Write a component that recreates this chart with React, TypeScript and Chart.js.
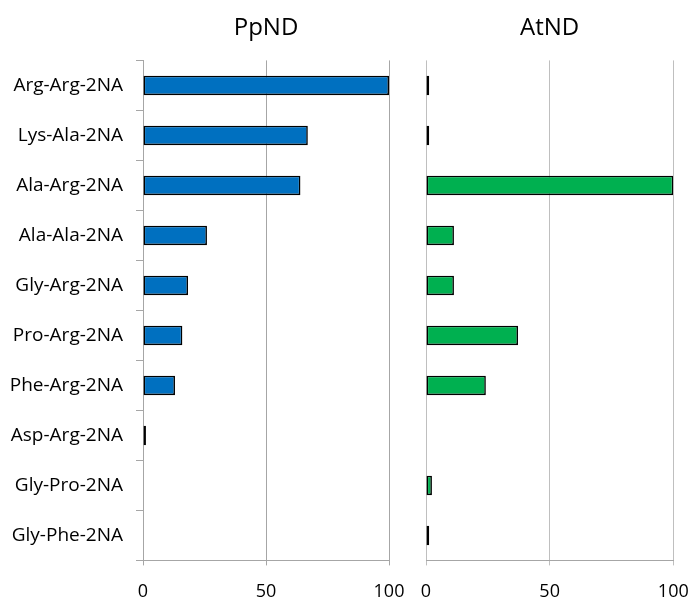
import React, { useEffect, useRef } from "react";
import { Chart, registerables } from "chart.js";

Chart.register(...registerables);

const categories = [
  "Arg-Arg-2NA",
  "Lys-Ala-2NA",
  "Ala-Arg-2NA",
  "Ala-Ala-2NA",
  "Gly-Arg-2NA",
  "Pro-Arg-2NA",
  "Phe-Arg-2NA",
  "Asp-Arg-2NA",
  "Gly-Pro-2NA",
  "Gly-Phe-2NA",
];
const ppndValues = [100, 67, 64, 26, 18.3, 16, 13, 1.2, 0, 0];
const atndValues = [1.3, 1.3, 100, 11.3, 11.3, 37.2, 24.2, 0, 2.4, 1.3];
const xTicks = [0, 50, 100];
const panelTitles = ["PpND", "AtND"];

const FONT = "'Open Sans', sans-serif";
const CANVAS_H = 619;

type PanelProps = {
  title: string;
  values: number[];
  color: string;
  showCategories: boolean;
  left: number;
  width: number;
  padLeft: number;
  padRight: number;
  gridColor: string;
};

function Panel(p: PanelProps) {
  const ref = useRef<HTMLCanvasElement | null>(null);
  useEffect(() => {
    if (!ref.current) return;
    const chart = new Chart(ref.current, {
      type: "bar",
      data: {
        labels: categories,
        datasets: [
          {
            data: p.values,
            backgroundColor: p.color,
            borderColor: "#000000",
            borderWidth: 1.6,
            borderSkipped: false,
            barPercentage: 0.39,
            categoryPercentage: 1,
          },
        ],
      },
      options: {
        indexAxis: "y",
        animation: false,
        responsive: false,
        maintainAspectRatio: false,
        events: [],
        layout: { padding: { left: p.padLeft, right: p.padRight, top: 0, bottom: 0 } },
        plugins: {
          legend: { display: false },
          tooltip: { enabled: false },
          title: {
            display: true,
            text: p.title,
            fullSize: false,
            color: "#000000",
            font: { family: FONT, size: 24, weight: "normal" },
            padding: { top: 13.6, bottom: 18 },
          },
        },
        scales: {
          x: {
            min: 0,
            max: 100,
            afterBuildTicks: (scale: any) => {
              scale.ticks = xTicks.map((v) => ({ value: v }));
            },
            afterFit: (scale: any) => {
              scale.paddingLeft = 0;
              scale.paddingRight = 0;
            },
            grid: {
              color: p.gridColor,
              drawTicks: true,
              tickLength: 5,
              lineWidth: 1,
            },
            border: { display: true, color: "#a6a6a6", width: 1 },
            ticks: {
              color: "#000000",
              padding: 16,
              maxRotation: 0,
              font: { family: FONT, size: 18 },
            },
          },
          y: {
            display: p.showCategories,
            afterFit: (scale: any) => {
              if (p.showCategories) scale.width = 143;
            },
            grid: {
              offset: true,
              drawOnChartArea: false,
              drawTicks: true,
              tickLength: 7,
              color: "#a6a6a6",
            },
            border: { display: true, color: "#a6a6a6", width: 1 },
            ticks: {
              color: "#000000",
              padding: 13,
              autoSkip: false,
              font: { family: FONT, size: 19 },
            },
          },
        },
      },
    } as any);
    return () => chart.destroy();
  }, []);
  return (
    <canvas
      ref={ref}
      width={p.width}
      height={CANVAS_H}
      style={{ position: "absolute", left: p.left, top: 0, width: p.width, height: CANVAS_H }}
    />
  );
}

export default function App() {
  return (
    <div
      style={{
        position: "fixed",
        left: 0,
        top: 0,
        width: 691,
        height: 597,
        overflow: "hidden",
        background: "#ffffff",
      }}
    >
      <Panel
        title={panelTitles[0]}
        values={ppndValues}
        color="#0070C0"
        showCategories={true}
        left={0}
        width={415}
        padLeft={0}
        padRight={26}
        gridColor="#a6a6a6"
      />
      <Panel
        title={panelTitles[1]}
        values={atndValues}
        color="#00B050"
        showCategories={false}
        left={410}
        width={281}
        padLeft={16}
        padRight={17.7}
        gridColor="#bfbfbf"
      />
    </div>
  );
}
